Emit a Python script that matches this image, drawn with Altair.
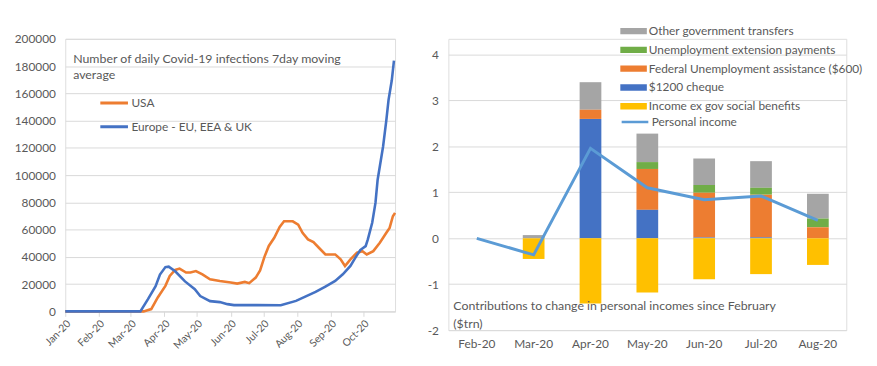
import altair as alt
import pandas as pd

FONT = "Lato"
GRID = "#D9D9D9"
LBL = "#595959"

# ---------------- left chart data ----------------
eu_dates = ["2020-01-01", "2020-03-10", "2020-03-17", "2020-03-24", "2020-03-28", "2020-04-02",
            "2020-04-05", "2020-04-11", "2020-04-20", "2020-04-29", "2020-05-04", "2020-05-13",
            "2020-05-22", "2020-05-29", "2020-06-04", "2020-06-25", "2020-07-17", "2020-07-31",
            "2020-08-09", "2020-08-18", "2020-08-27", "2020-09-05", "2020-09-12", "2020-09-19",
            "2020-09-23", "2020-09-28", "2020-10-03", "2020-10-05", "2020-10-09", "2020-10-12",
            "2020-10-14", "2020-10-19", "2020-10-22", "2020-10-24", "2020-10-27", "2020-10-29"]
eu_values = [0, 0, 9000, 18500, 27000, 32500,
             32800, 29400, 22000, 16300, 11200, 7500,
             6800, 5300, 4600, 4600, 4500, 7700,
             11000, 14300, 18200, 22300, 27200, 33300,
             38700, 45000, 47900, 52800, 65000, 79600,
             96600, 121000, 140400, 155000, 169600, 184000]

us_dates = ["2020-01-01", "2020-03-13", "2020-03-20", "2020-03-26", "2020-04-02", "2020-04-06",
            "2020-04-11", "2020-04-15", "2020-04-21", "2020-04-25", "2020-04-30", "2020-05-06",
            "2020-05-13", "2020-05-22", "2020-06-01", "2020-06-07", "2020-06-14", "2020-06-18",
            "2020-06-24", "2020-06-28", "2020-07-02", "2020-07-06", "2020-07-11", "2020-07-16",
            "2020-07-20", "2020-07-28", "2020-08-02", "2020-08-06", "2020-08-11", "2020-08-16",
            "2020-08-21", "2020-08-27", "2020-09-05", "2020-09-10", "2020-09-14", "2020-09-19",
            "2020-09-25", "2020-09-30", "2020-10-04", "2020-10-10", "2020-10-16", "2020-10-22",
            "2020-10-25", "2020-10-28", "2020-10-30"]
us_values = [0, 0, 1700, 10200, 18700, 26000,
             30400, 31400, 28500, 28500, 29600, 27200,
             23600, 22300, 21200, 20400, 21600, 20700,
             24800, 30000, 40000, 48000, 54000, 62000,
             66100, 66100, 63700, 57700, 52800, 50800,
             46700, 41800, 41800, 38200, 33300, 38200,
             43100, 44200, 41800, 44200, 50400, 57700,
             61300, 69800, 72300]

left_series = ["USA", "Europe - EU, EEA & UK"]
left_colors = ["#ED7D31", "#4472C4"]
left_ticks = [0, 20000, 40000, 60000, 80000, 100000, 120000, 140000, 160000, 180000, 200000]
left_title = ["Number of daily Covid-19 infections 7day moving", "average"]

# ---------------- right chart data ----------------
months = ["Feb-20", "Mar-20", "Apr-20", "May-20", "Jun-20", "Jul-20", "Aug-20"]
income_ex_gov = [0.0, -0.45, -1.42, -1.18, -0.89, -0.78, -0.58]
cheque_1200 = [0.0, 0.0, 2.60, 0.62, 0.02, 0.02, 0.0]
fed_unemp = [0.0, 0.0, 0.20, 0.89, 0.97, 0.93, 0.24]
unemp_ext = [0.0, 0.0, 0.0, 0.15, 0.17, 0.15, 0.19]
other_gov = [0.0, 0.07, 0.60, 0.62, 0.58, 0.58, 0.54]
personal_income = [0.0, -0.36, 1.96, 1.10, 0.84, 0.92, 0.39]

bar_series = ["Other government transfers", "Unemployment extension payments",
              "Federal Unemployment assistance ($600)", "$1200 cheque",
              "Income ex gov social benefits"]
bar_colors = ["#A5A5A5", "#70AD47", "#ED7D31", "#4472C4", "#FFC000"]
stack_order = [5, 4, 3, 2, 1]
right_title = ["Contributions to change in personal incomes since February", "($trn)"]

# ---------------- build tables ----------------
left_df = pd.concat([
    pd.DataFrame({"date": us_dates, "value": us_values, "series": left_series[0], "ord": 0}),
    pd.DataFrame({"date": eu_dates, "value": eu_values, "series": left_series[1], "ord": 1}),
])
left_df["date"] = left_df["date"] + "T00:00:00"

rows = []
vals = [other_gov, unemp_ext, fed_unemp, cheque_1200, income_ex_gov]
for s, v, o in zip(bar_series, vals, stack_order):
    for m, x in zip(months, v):
        rows.append({"month": m, "series": s, "value": x, "order": o})
bar_df = pd.DataFrame(rows)
line_df = pd.DataFrame({"month": months, "value": personal_income, "series": "Personal income"})

# ---------------- left chart ----------------
month_ticks = [alt.DateTime(year=2020, month=m, date=1) for m in range(1, 11)]
xl = alt.X("date:T", title=None,
           scale=alt.Scale(domain=[alt.DateTime(year=2020, month=1, date=1),
                                   alt.DateTime(year=2020, month=10, date=30)]),
           axis=alt.Axis(values=month_ticks, format="%b-%y", labelAngle=-45, labelAlign="right",
                         labelBaseline="top", labelFontSize=10.5, labelColor=LBL, grid=False,
                         domainColor=GRID, tickColor=GRID, tickSize=5, labelPadding=2,
                         labelFont=FONT))
yl = alt.Y("value:Q", title=None,
           scale=alt.Scale(domain=[0, 200000], nice=False),
           axis=alt.Axis(values=left_ticks, format="d", gridColor=GRID, domain=False, ticks=False,
                         labelPadding=10, labelFontSize=12, labelColor=LBL, labelFont=FONT))

left_lines = alt.Chart(left_df).mark_line(strokeWidth=2.6).encode(
    x=xl, y=yl,
    color=alt.Color("series:N", scale=alt.Scale(domain=left_series, range=left_colors),
                    legend=alt.Legend(title=None, orient="none", legendX=34, legendY=53,
                                      symbolType="stroke", symbolSize=784, symbolStrokeWidth=3,
                                      clipHeight=24, rowPadding=0, labelFontSize=12,
                                      labelColor=LBL, labelFont=FONT, labelOffset=2, padding=0,
                                      labelLimit=0)),
    detail="ord:O",
)
left_text = alt.Chart(pd.DataFrame({"t": [0]})).mark_text(
    text=left_title, align="left", baseline="middle", fontSize=12.5, color=LBL, font=FONT,
    lineHeight=17
).encode(x=alt.value(8), y=alt.value(20))

left = alt.layer(left_lines, left_text).properties(width=334, height=276)

# ---------------- right chart ----------------
xr = alt.X("month:N", title=None, sort=months,
           scale=alt.Scale(paddingInner=0, paddingOuter=0),
           axis=alt.Axis(labelAngle=0, ticks=False, domain=False, labelPadding=9,
                         labelFontSize=12, labelColor=LBL, labelFont=FONT))
yr_axis = alt.Axis(values=[-2, -1, 0, 1, 2, 3, 4], labelExpr="'' + datum.value",
                   gridColor=GRID, domain=False, ticks=False, labelPadding=10,
                   labelFontSize=12, labelColor=LBL, labelFont=FONT)
yscale = alt.Scale(domain=[-2, 4.344], nice=False)

bars = alt.Chart(bar_df).mark_bar(size=22).encode(
    x=xr,
    y=alt.Y("value:Q", title=None, scale=yscale, axis=yr_axis, stack="zero"),
    color=alt.Color("series:N", scale=alt.Scale(domain=bar_series, range=bar_colors),
                    legend=alt.Legend(title=None, orient="none", legendX=174, legendY=-17,
                                      symbolType="M-1,-0.24H1V0.24H-1Z", symbolSize=729,
                                      symbolStrokeWidth=0, clipHeight=18.4, rowPadding=0,
                                      labelFontSize=12, labelColor=LBL, labelFont=FONT,
                                      labelOffset=2, padding=0, labelLimit=0)),
    order=alt.Order("order:Q"),
)
pline = alt.Chart(line_df).mark_line(strokeWidth=3).encode(
    x=xr,
    y=alt.Y("value:Q", scale=yscale, axis=yr_axis),
    stroke=alt.Stroke("series:N", scale=alt.Scale(domain=["Personal income"], range=["#5B9BD5"]),
                      legend=alt.Legend(title=None, orient="none", legendX=174, legendY=75,
                                        symbolType="stroke", symbolSize=729, symbolStrokeWidth=2.5,
                                        clipHeight=18.4, rowPadding=0, labelFontSize=12,
                                        labelColor=LBL, labelFont=FONT, labelOffset=2, padding=0,
                                        labelLimit=0)),
)
right_text = alt.Chart(pd.DataFrame({"t": [0]})).mark_text(
    text=right_title, align="left", baseline="middle", fontSize=12.5, color=LBL, font=FONT,
    lineHeight=18
).encode(x=alt.value(5), y=alt.value(271))

right = alt.layer(bars, pline, right_text).resolve_scale(
    color="independent", stroke="independent").properties(width=403, height=295)

chart = alt.hconcat(left, right, spacing=54, bounds="flush").resolve_scale(
    color="independent", stroke="independent", y="independent", x="independent"
).properties(padding={"left": 5, "top": 11, "right": 5, "bottom": 5}).configure_view(
    stroke=None
).configure(font=FONT)

chart.save("out.html", embed_options={"renderer": "svg", "actions": False})
